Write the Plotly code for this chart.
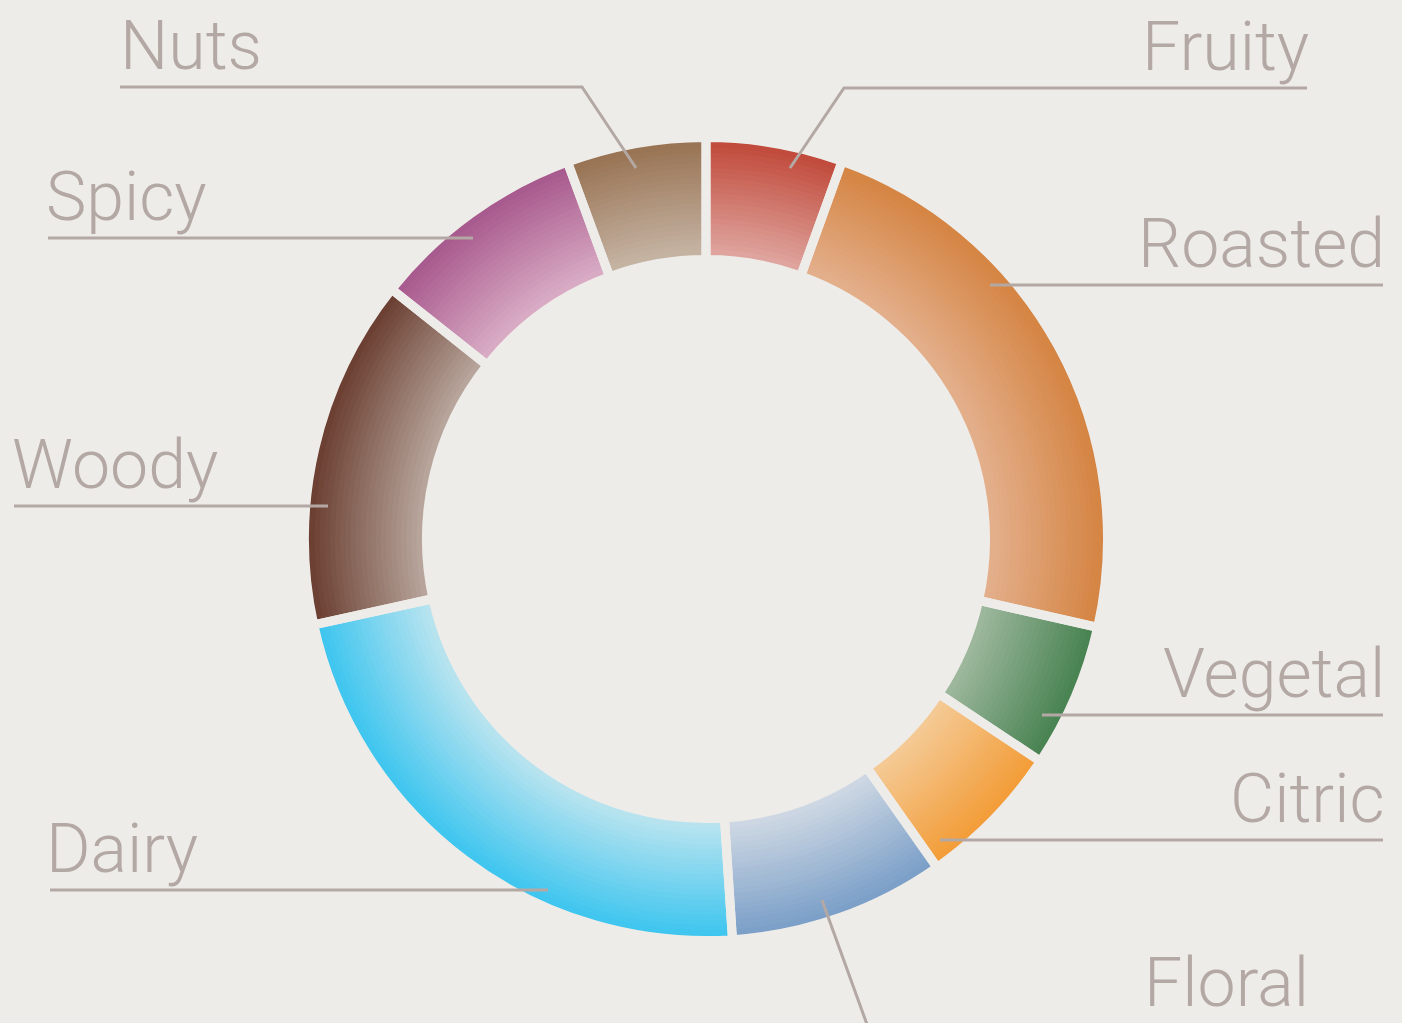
import plotly.graph_objects as go

# ---------------- data ----------------
flavors = ["Fruity", "Roasted", "Vegetal", "Citric", "Floral", "Dairy", "Woody", "Spicy", "Nuts"]
shares = [5.5, 23.0, 5.8, 5.9, 8.7, 22.6, 14.1, 8.7, 5.6]
outer_colors = ["#bf4535", "#d4823f", "#44804e", "#f39b34", "#769cc6", "#38c4ef", "#673a2c", "#a5558a", "#96704f"]
inner_colors = ["#e0aaa4", "#e4b290", "#a3bba2", "#f4cc9a", "#d3dbe5", "#bfe5ef", "#bcaba2", "#dcb0c8", "#c8b7a8"]

# ---------------- layout constants ----------------
W, H = 1402, 1023
BG = "#eeece9"
TXT = "#b3a8a3"
CX, CY = 706, 539          # ring centre (pixels)
R_OUT, R_IN = 397, 284     # ring radii (pixels)
GAP = 9                    # gap between slices (pixels)
N_RINGS = 24

# label placement: (x of text anchor, xanchor, text bottom y, yshift, leader polyline in pixels)
label_layout = {
    "Nuts":    dict(tx=118, xa="left",  ty=88,  ys=0, line=[(120, 87), (582, 87), (636, 168)]),
    "Spicy":   dict(tx=44,  xa="left",  ty=239, ys=0, line=[(48, 238), (473, 238)]),
    "Woody":   dict(tx=10,  xa="left",  ty=507, ys=0, line=[(14, 506), (328, 506)]),
    "Dairy":   dict(tx=44,  xa="left",  ty=891, ys=0, line=[(50, 890), (548, 890)]),
    "Fruity":  dict(tx=1311, xa="right", ty=89, ys=0, line=[(790, 168), (844, 88), (1307, 88)]),
    "Roasted": dict(tx=1387, xa="right", ty=286, ys=0, line=[(990, 285), (1383, 285)]),
    "Vegetal": dict(tx=1387, xa="right", ty=716, ys=0, line=[(1042, 715), (1383, 715)]),
    "Citric":  dict(tx=1387, xa="right", ty=841, ys=0, line=[(940, 840), (1383, 840)]),
    "Floral":  dict(tx=1311, xa="right", ty=1022, ys=-3, line=[(822, 900), (869, 1030), (1307, 1030)]),
}


def hex2rgb(h):
    h = h.lstrip("#")
    return tuple(int(h[i:i + 2], 16) for i in (0, 2, 4))


def mix(c1, c2, t):
    a, b = hex2rgb(c1), hex2rgb(c2)
    return "rgb(%d,%d,%d)" % tuple(round(a[i] + (b[i] - a[i]) * t) for i in range(3))


def domain_for(r):
    return dict(x=[(CX - r) / W, (CX + r) / W],
                y=[(H - CY - r) / H, (H - CY + r) / H])


fig = go.Figure()

r_out = R_OUT + GAP / 2
r_in = R_IN - GAP / 2
step = (r_out - r_in) / N_RINGS
for k in range(N_RINGS):
    ro = r_out - k * step
    ri = max(ro - step - 1.5, r_in) if k < N_RINGS - 1 else r_in
    t = (k + 0.5) / N_RINGS
    cols = [mix(o, i, t) for o, i in zip(outer_colors, inner_colors)]
    fig.add_trace(go.Pie(
        labels=flavors, values=shares, sort=False, direction="clockwise", rotation=0,
        hole=ri / ro, domain=domain_for(ro),
        marker=dict(colors=cols, line=dict(width=0)),
        textinfo="none", hoverinfo="skip", showlegend=False,
    ))

# gaps between slices
fig.add_trace(go.Pie(
    labels=flavors, values=shares, sort=False, direction="clockwise", rotation=0,
    hole=r_in / r_out, domain=domain_for(r_out),
    marker=dict(colors=["rgba(0,0,0,0)"] * len(flavors), line=dict(width=GAP, color=BG)),
    textinfo="none", hovertemplate="%{label}: %{value}%<extra></extra>", showlegend=False,
))

shapes = []
annotations = []
for name in flavors:
    L = label_layout[name]
    pts = L["line"]
    path = "M " + " L ".join(f"{x},{y}" for x, y in pts)
    shapes.append(dict(type="path", path=path, xref="x", yref="y",
                       line=dict(color=TXT, width=3), layer="above"))
    annotations.append(dict(text=name, x=L["tx"], y=L["ty"], yshift=L["ys"], xref="x", yref="y",
                            xanchor=L["xa"], yanchor="bottom", showarrow=False,
                            font=dict(family="Roboto", size=68, color=TXT, weight=300)))

fig.update_layout(
    width=W, height=H,
    margin=dict(l=0, r=0, t=0, b=0),
    paper_bgcolor=BG, plot_bgcolor=BG,
    xaxis=dict(range=[0, W], visible=False, fixedrange=True),
    yaxis=dict(range=[H, 0], visible=False, fixedrange=True),
    shapes=shapes, annotations=annotations,
)

fig.write_html("out.html",
               config={"displayModeBar": False},
               post_script="document.body.style.margin='0';document.body.style.overflow='hidden';"
                           "document.body.style.background='" + BG + "';")
